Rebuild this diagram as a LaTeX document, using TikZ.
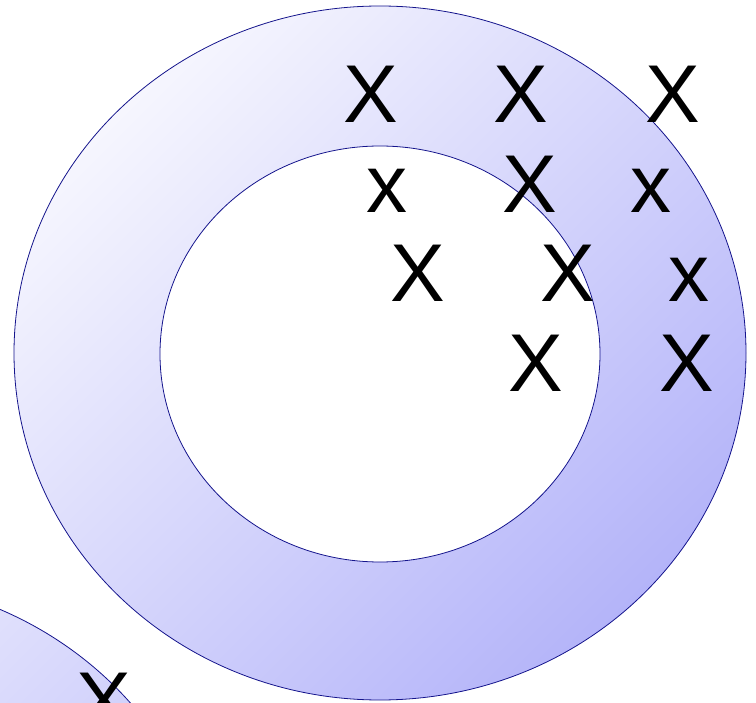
\documentclass[tikz,border=0pt]{standalone}
\usepackage{fontspec}
\setmainfont{Liberation Sans}
\definecolor{ringlight}{RGB}{246,246,254}
\definecolor{ringdark}{RGB}{180,180,249}
\definecolor{ringedge}{RGB}{20,20,140}
\begin{document}
\begin{tikzpicture}[x=1pt,y=-1pt,
  ring/.style={draw=ringedge,line width=0.8pt,even odd rule,left color=ringlight,right color=ringdark,shading angle=45},
  lbl/.style={inner sep=0pt,anchor=base,font=\fontsize{82}{82}\selectfont}]
\useasboundingbox (0,0) rectangle (756,703);
% second ring, bottom-left (mostly outside the frame)
\path[ring] (-150,926) ellipse [x radius=366,y radius=347] (-150,927) ellipse [x radius=220,y radius=208];
% main ring
\path[ring] (380,353) ellipse [x radius=366,y radius=347] (380,354) ellipse [x radius=220,y radius=208];
% letters
\node[lbl] (a1) at (371,123) {X};
\node[lbl] (a2) at (521,123) {X};
\node[lbl] (a3) at (672.5,123) {X};
\node[lbl] (b1) at (387,213) {x};
\node[lbl] (b2) at (530,213) {X};
\node[lbl] (b3) at (651,213) {x};
\node[lbl] (c1) at (417.5,302) {X};
\node[lbl] (c2) at (568,302) {X};
\node[lbl] (c3) at (688.5,302) {x};
\node[lbl] (d1) at (535.5,392) {X};
\node[lbl] (d2) at (687,392) {X};
\node[lbl] (e1) at (104,729) {X};
\end{tikzpicture}
\end{document}
